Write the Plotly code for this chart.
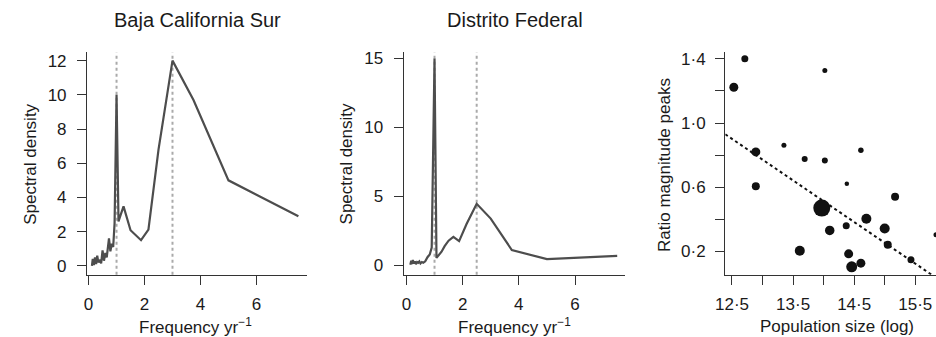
import plotly.graph_objects as go

W, H = 936, 337

# ---------------- data ----------------
titles = ["Baja California Sur", "Distrito Federal"]

freq_bcs = [0.12, 0.15, 0.19, 0.23, 0.27, 0.31, 0.35, 0.40, 0.45, 0.50, 0.55, 0.60, 0.65, 0.70,
            0.73, 0.78, 0.83, 0.88, 0.93, 1.00, 1.07, 1.15, 1.25, 1.50, 1.875, 2.14, 2.50, 3.00,
            3.75, 5.00, 7.50]
dens_bcs = [0.00, 0.40, 0.05, 0.50, 0.10, 0.60, 0.20, 0.30, 0.15, 0.90, 0.30, 0.75, 0.50, 1.20,
            1.60, 0.85, 1.30, 1.10, 2.50, 10.0, 2.60, 3.00, 3.48, 2.08, 1.50, 2.12, 6.80, 12.0,
            9.70, 5.00, 2.90]
peaks_bcs = [1.0, 3.0]

freq_df = [0.14, 0.17, 0.20, 0.23, 0.26, 0.30, 0.34, 0.38, 0.42, 0.46, 0.50, 0.55, 0.60, 0.67,
           0.75, 0.83, 0.90, 1.00, 1.07, 1.15, 1.25, 1.36, 1.50, 1.67, 1.875, 2.14, 2.50, 3.00,
           3.75, 5.00, 7.50]
dens_df = [0.05, 0.35, 0.10, 0.40, 0.15, 0.30, 0.10, 0.25, 0.20, 0.30, 0.15, 0.25, 0.20, 0.30,
           0.60, 0.80, 1.30, 15.0, 0.55, 0.75, 1.00, 1.40, 1.80, 2.08, 1.77, 3.00, 4.47, 3.40,
           1.12, 0.46, 0.69]
peaks_df = [1.0, 2.5]

pop_log = [12.71, 12.53, 14.02, 12.89, 13.35, 13.69, 14.02, 14.61, 12.89, 14.38, 15.17, 13.97,
           14.70, 14.37, 14.10, 15.00, 15.05, 13.61, 14.41, 14.61, 14.46, 15.43, 15.84]
ratio = [1.40, 1.223, 1.327, 0.82, 0.861, 0.776, 0.766, 0.83, 0.606, 0.622, 0.541, 0.47,
         0.404, 0.36, 0.331, 0.343, 0.242, 0.204, 0.185, 0.127, 0.104, 0.148, 0.304]
weight = [7, 9, 5, 9, 5, 6, 6, 5.5, 8, 4.5, 8, 17, 10, 7, 9.5, 10, 8, 10, 9, 9, 11, 7, 5]
fit_intercept = 4.139
fit_slope = -0.259

spec_ticks = [[0, 2, 4, 6, 8, 10, 12], [0, 5, 10, 15]]
freq_ticks = [0, 2, 4, 6]
ratio_ticks = [0.2, 0.4, 0.6, 0.8, 1.0, 1.2, 1.4]
ratio_labels = ["0·2", "", "0·6", "", "1·0", "", "1·4"]
pop_ticks = [12.5, 13.0, 13.5, 14.0, 14.5, 15.0, 15.5]
pop_labels = ["12·5", "", "13·5", "", "14·5", "", "15·5"]

# ---------------- layout helpers ----------------
def px_x(p):
    return p / W

def px_y(p):
    return (H - p) / H

FONT = "Liberation Sans, Arial, Helvetica, sans-serif"
TXT = "#1a1a1a"
AX = "#333333"

ydom = [px_y(275), px_y(50)]

fig = go.Figure()

fig.add_trace(go.Scatter(x=freq_bcs, y=dens_bcs, mode="lines",
                         line=dict(color="#4d4d4d", width=2.2), xaxis="x", yaxis="y",
                         showlegend=False))
fig.add_trace(go.Scatter(x=freq_df, y=dens_df, mode="lines",
                         line=dict(color="#4d4d4d", width=2.2), xaxis="x2", yaxis="y2",
                         showlegend=False))

x3_range = [12.39, 15.84]
fig.add_trace(go.Scatter(x=x3_range, y=[fit_intercept + fit_slope * v for v in x3_range],
                         mode="lines", line=dict(color="#111111", width=2, dash="dot"),
                         xaxis="x3", yaxis="y3", showlegend=False))
fig.add_trace(go.Scatter(x=pop_log, y=ratio, mode="markers",
                         marker=dict(color="#111111", size=weight, opacity=1, line=dict(width=0)),
                         opacity=1, xaxis="x3", yaxis="y3", showlegend=False))

shapes = []
for xr, peaks in (("x", peaks_bcs), ("x2", peaks_df)):
    yr = "y" if xr == "x" else "y2"
    for p in peaks:
        shapes.append(dict(type="line", xref=xr, yref=yr + " domain", x0=p, x1=p, y0=0, y1=1,
                           line=dict(color="#aaaaaa", width=2, dash="dot"), layer="below"))

common = dict(showline=True, linecolor=AX, linewidth=1.4, ticks="outside", ticklen=9,
              tickwidth=1.4, tickcolor=AX, showgrid=False, zeroline=False,
              tickfont=dict(size=17, color=TXT, family=FONT), fixedrange=True)

fig.update_layout(
    width=W, height=H, margin=dict(l=0, r=0, t=0, b=0),
    paper_bgcolor="white", plot_bgcolor="white",
    font=dict(family=FONT, color=TXT),
    shapes=shapes,
    xaxis=dict(domain=[px_x(78), px_x(300)], range=[-0.05, 7.8], tickvals=freq_ticks,
               anchor="y", ticklabelstandoff=5, **common),
    yaxis=dict(domain=ydom, range=[-0.52, 12.48], tickvals=spec_ticks[0], anchor="x",
               ticklabelstandoff=7, **common),
    xaxis2=dict(domain=[px_x(398), px_x(622)], range=[-0.095, 7.79], tickvals=freq_ticks,
                anchor="y2", ticklabelstandoff=5, **common),
    yaxis2=dict(domain=ydom, range=[-0.67, 15.44], tickvals=spec_ticks[1], anchor="x2",
                ticklabelstandoff=7, **common),
    xaxis3=dict(domain=[px_x(723), 1.0], range=x3_range, tickvals=pop_ticks, ticktext=pop_labels,
                anchor="y3", ticklabelstandoff=5, **common),
    yaxis3=dict(domain=ydom, range=[0.055, 1.44], tickvals=ratio_ticks, ticktext=ratio_labels,
                anchor="x3", ticklabelstandoff=6, **common),
)

ann = []
ann.append(dict(text=titles[0], x=px_x(190), y=px_y(17), font=dict(size=20)))
ann.append(dict(text=titles[1], x=px_x(510), y=px_y(17), font=dict(size=20)))
ann.append(dict(text="Spectral density", x=px_x(20), y=px_y(163), textangle=-90, font=dict(size=17)))
ann.append(dict(text="Spectral density", x=px_x(340), y=px_y(163), textangle=-90, font=dict(size=17)))
ann.append(dict(text="Ratio magnitude peaks", x=px_x(661), y=px_y(164), textangle=-90, font=dict(size=17)))
ann.append(dict(text="Frequency yr<sup>−1</sup>", x=px_x(187), y=px_y(327), font=dict(size=17)))
ann.append(dict(text="Frequency yr<sup>−1</sup>", x=px_x(510), y=px_y(327), font=dict(size=17)))
ann.append(dict(text="Population size (log)", x=px_x(836), y=px_y(327), font=dict(size=17)))
for a in ann:
    a.update(xref="paper", yref="paper", showarrow=False, xanchor="center", yanchor="middle")
    a["font"].update(family=FONT, color=TXT)
fig.update_layout(annotations=ann)

fig.write_html("out.html")
